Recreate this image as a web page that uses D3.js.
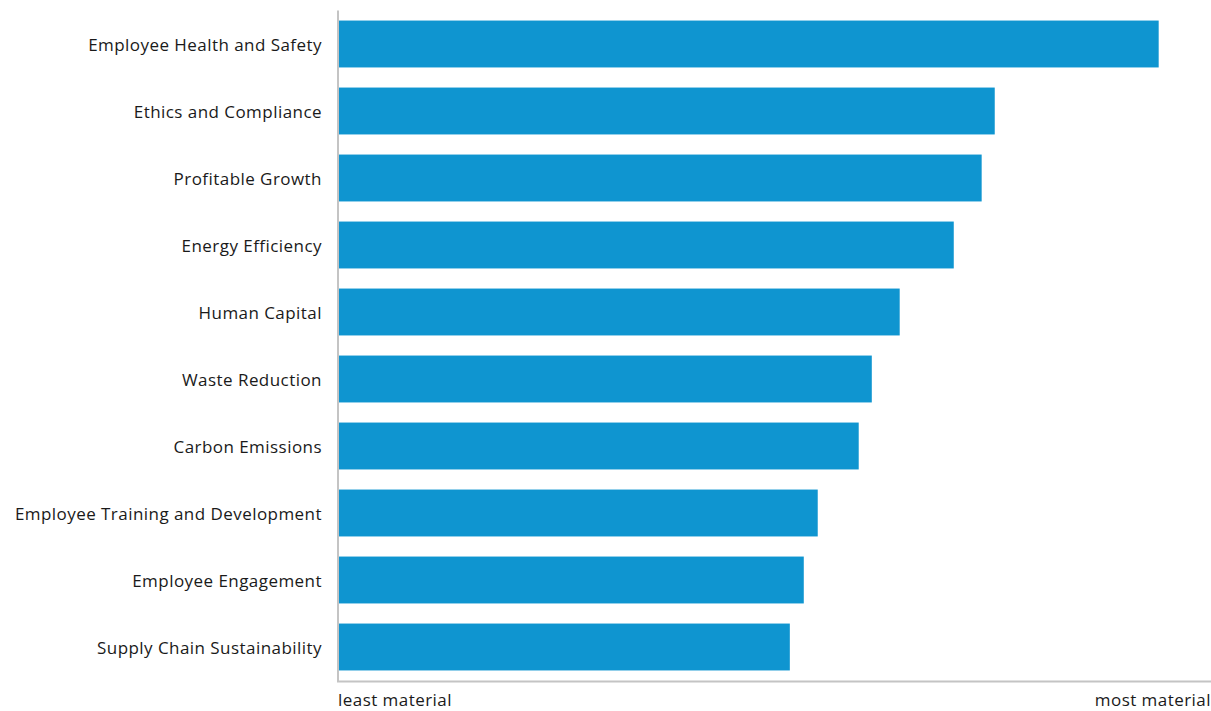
<!DOCTYPE html>
<html>
<head>
<meta charset="utf-8">
<script src="https://cdn.jsdelivr.net/npm/d3@7"></script>
<style>
  html, body { margin: 0; padding: 0; background: #fff; }
  svg { display: block; }
  text { font-family: "Open Sans", "Noto Sans", sans-serif; fill: #1a1a1a; }
</style>
</head>
<body>
<svg id="chart" width="1211" height="711"></svg>
<script>
// Materiality ranking of sustainability topics (relative score, 0–100)
const topics = [
  "Employee Health and Safety",
  "Ethics and Compliance",
  "Profitable Growth",
  "Energy Efficiency",
  "Human Capital",
  "Waste Reduction",
  "Carbon Emissions",
  "Employee Training and Development",
  "Employee Engagement",
  "Supply Chain Sustainability"
];
const scores = [94.0, 75.2, 73.7, 70.5, 64.3, 61.1, 59.6, 54.9, 53.3, 51.7];
const axisLabels = ["least material", "most material"];

(function () {
  const svg = d3.select("#chart");
  const W = 1211;
  const plotLeft = 339, plotTop = 10.5, plotBottom = 680.5;
  const font = "'Open Sans', sans-serif";

  const x = d3.scaleLinear().domain([0, 100]).range([plotLeft, W]);
  const y = d3.scaleBand().domain(topics).range([plotTop, plotBottom])
    .paddingInner(0.3).paddingOuter(0.15);

  const data = topics.map((t, i) => ({ topic: t, score: scores[i] }));

  // bars
  svg.append("g").selectAll("rect").data(data).join("rect")
    .attr("x", x(0))
    .attr("y", d => y(d.topic))
    .attr("width", d => x(d.score) - x(0))
    .attr("height", y.bandwidth())
    .attr("fill", "#0f95d0");

  // category labels
  const yAxis = d3.axisLeft(y).tickSize(0).tickPadding(17);
  const gy = svg.append("g").attr("transform", `translate(${plotLeft},0)`).call(yAxis);
  gy.select(".domain").remove();
  gy.selectAll("text")
    .attr("font-size", 17)
    .attr("dy", "0.4em")
    .style("font-family", font)
    .style("letter-spacing", "0.45px")
    .attr("fill", "#1a1a1a");

  // axis lines
  svg.append("line").attr("x1", plotLeft - 1).attr("x2", plotLeft - 1)
    .attr("y1", plotTop).attr("y2", plotBottom + 1)
    .attr("stroke", "#c4c4c4").attr("stroke-width", 2);
  svg.append("line").attr("x1", plotLeft - 2).attr("x2", W)
    .attr("y1", plotBottom + 1).attr("y2", plotBottom + 1)
    .attr("stroke", "#c4c4c4").attr("stroke-width", 2);

  // scale end labels
  svg.append("text").attr("x", x(0) - 1).attr("y", 706).attr("font-size", 17)
    .style("letter-spacing", "0.45px")
    .attr("text-anchor", "start").text(axisLabels[0]);
  svg.append("text").attr("x", x(100)).attr("y", 706).attr("font-size", 17)
    .style("letter-spacing", "0.45px")
    .attr("text-anchor", "end").text(axisLabels[1]);
})();
</script>
</body>
</html>
